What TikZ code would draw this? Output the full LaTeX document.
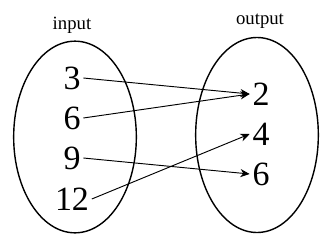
\documentclass[tikz,border=0pt]{standalone}
\usepackage{fontspec}
\setmainfont{Liberation Serif}
\usetikzlibrary{shapes.geometric, arrows.meta}

\begin{document}
\begin{tikzpicture}[
    x=0.03cm, y=-0.03cm,
    % Define styles
    setbox/.style={ellipse, draw=black, line width=1.2pt, minimum width=3.68cm, minimum height=5.75cm, inner sep=0pt},
    numtext/.style={font=\fontsize{29}{32}\selectfont, inner sep=0.22em},
    settitle/.style={font=\fontsize{16}{18}\selectfont, inner sep=0pt},
    maparrow/.style={-{Stealth[length=8pt, width=7pt]}, line width=0.8pt}
]
    \useasboundingbox (0,0) rectangle (327,239);

    % 1. The two sets
    \node[setbox] (inset) at (75,137) {};
    \node[setbox, minimum height=5.85cm] (outset) at (257,135) {};
    \node[settitle] (intitle) at (72,25) {input};
    \node[settitle] (outtitle) at (260,21) {output};

    % 2. Domain values
    \node[numtext] (a3) at (72,78) {3};
    \node[numtext] (a6) at (72,118) {6};
    \node[numtext] (a9) at (72,158) {9};
    \node[numtext] (a12) at (72,199) {12};

    % 3. Range values
    \node[numtext] (b2) at (261,94) {2};
    \node[numtext] (b4) at (261,134) {4};
    \node[numtext] (b6) at (261,174) {6};

    % 4. Connections (Arrows)
    \draw[maparrow] (a3.east) -- (b2.west);
    \draw[maparrow] (a6.east) -- (b2.west);
    \draw[maparrow] (a9.east) -- (b6.west);
    \draw[maparrow] (a12.east) -- (b4.west);

\end{tikzpicture}
\end{document}
